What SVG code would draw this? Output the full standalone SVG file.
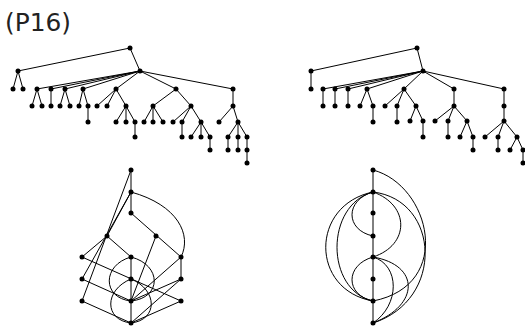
<svg xmlns="http://www.w3.org/2000/svg" width="525" height="327" viewBox="0 0 525 327">
<style>
.e{stroke:#000;stroke-width:1;fill:none}
.n{fill:#000}
.t{font-family:"DejaVu Sans","Liberation Sans",sans-serif;font-size:24px;fill:#222}
</style>
<rect width="525" height="327" fill="#fff"/>
<text class="t" x="5" y="31" textLength="66" lengthAdjust="spacingAndGlyphs">(P16)</text>
<g id="connectors" class="e">
<path d="M130,48L18,71M130,48L140,71M18,71L13,89M18,71L23,89
M140,71L37,89M140,71L51,89M140,71L65,89M140,71L83,89M140,71L116,89M140,71L176,89M140,71L233,89
M37,89L32,106M37,89L42,106M51,89L51,106M65,89L60,106M65,89L70,106M83,89L79,106M83,89L88,106M88,106L88,122
M116,89L97,106M116,89L107,106M116,89L126,106M126,106L116,122M126,106L126,122M126,106L135,122M135,122L135,137
M176,89L153,106M176,89L191,106M153,106L144,122M153,106L153,122M153,106L163,122
M191,106L173,122M191,106L182,122M191,106L201,122M182,122L182,137
M201,122L191,137M201,122L201,137M201,122L210,137M210,137L210,150
M233,89L233,106M233,106L219,122M233,106L238,122M238,122L228,137M238,122L238,137M238,122L247,137
M228,137L228,150M238,137L238,150M247,137L247,150M247,150L247,163"/>
<path d="M417,48L311,71M417,48L423,71M311,71L311,89
M423,71L323,89M423,71L335,89M423,71L348,89M423,71L367,89M423,71L404,89M423,71L454,89M423,71L504,89
M323,89L323,106M335,89L335,106M348,89L348,106M367,89L360,106M367,89L373,106M373,106L373,122
M404,89L385,106M404,89L397,106M404,89L416,106M397,106L397,122M416,106L410,121M416,106L423,121M423,121L423,137
M454,89L454,106M454,106L435,121M454,106L448,121M454,106L467,121M448,121L448,137M467,121L460,137M467,121L473,137M473,137L473,150
M504,89L504,106M504,106L504,121M504,121L485,137M504,121L498,137M504,121L517,137M498,137L498,150M517,137L510,150M517,137L523,150M523,150L523,163"/>
<path d="M131,170L131,192M131,192L131,213M131,213L181,257M156,236L131,301
M131,192L107,236M107,236L82,257M107,236L131,257M131,170L82,301M131,192L82,279
M82,257L181,301M82,279L131,301M82,301L131,323M131,257L131,279M131,279L131,301M131,301L131,323
M181,257L181,279M181,257L131,301M181,279L131,301M181,279L131,323M181,301L131,323"/>
<path d="M131,192C178,205 192,235 181,257"/>
<path d="M131,257C102,265 102,298 131,301M131,257C162,265 162,298 131,301"/>
<path d="M131,279C104,290 104,320 131,323M131,279C158,290 158,320 131,323"/>
<path d="M373,170L373,323"/>
<path d="M373,170C430,185 455,285 373,301"/>
<path d="M373,192C345,200 345,230 373,236"/>
<path d="M373,192C410,205 410,245 373,257"/>
<path d="M373,192C310,205 310,290 373,301M373,192C325,205 325,290 373,301"/>
<path d="M373,257C345,265 345,295 373,301"/>
<path d="M373,257C400,265 400,305 373,323M373,257C420,265 420,305 373,323"/>
<path d="M373,192C440,200 445,300 373,323"/>
</g>
<g id="nodes" class="n">
<circle cx="130" cy="48" r="2.5"/><circle cx="18" cy="71" r="2.5"/><circle cx="140" cy="71" r="2.5"/>
<circle cx="13" cy="89" r="2.5"/><circle cx="23" cy="89" r="2.5"/><circle cx="37" cy="89" r="2.5"/><circle cx="51" cy="89" r="2.5"/><circle cx="65" cy="89" r="2.5"/><circle cx="83" cy="89" r="2.5"/><circle cx="116" cy="89" r="2.5"/><circle cx="176" cy="89" r="2.5"/><circle cx="233" cy="89" r="2.5"/>
<circle cx="32" cy="106" r="2.5"/><circle cx="42" cy="106" r="2.5"/><circle cx="51" cy="106" r="2.5"/><circle cx="60" cy="106" r="2.5"/><circle cx="70" cy="106" r="2.5"/><circle cx="79" cy="106" r="2.5"/><circle cx="88" cy="106" r="2.5"/><circle cx="97" cy="106" r="2.5"/><circle cx="107" cy="106" r="2.5"/><circle cx="126" cy="106" r="2.5"/><circle cx="153" cy="106" r="2.5"/><circle cx="191" cy="106" r="2.5"/><circle cx="233" cy="106" r="2.5"/>
<circle cx="88" cy="122" r="2.5"/><circle cx="116" cy="122" r="2.5"/><circle cx="126" cy="122" r="2.5"/><circle cx="135" cy="122" r="2.5"/><circle cx="144" cy="122" r="2.5"/><circle cx="153" cy="122" r="2.5"/><circle cx="163" cy="122" r="2.5"/><circle cx="173" cy="122" r="2.5"/><circle cx="182" cy="122" r="2.5"/><circle cx="201" cy="122" r="2.5"/><circle cx="219" cy="122" r="2.5"/><circle cx="238" cy="122" r="2.5"/>
<circle cx="135" cy="137" r="2.5"/><circle cx="182" cy="137" r="2.5"/><circle cx="191" cy="137" r="2.5"/><circle cx="201" cy="137" r="2.5"/><circle cx="210" cy="137" r="2.5"/><circle cx="228" cy="137" r="2.5"/><circle cx="238" cy="137" r="2.5"/><circle cx="247" cy="137" r="2.5"/>
<circle cx="210" cy="150" r="2.5"/><circle cx="228" cy="150" r="2.5"/><circle cx="238" cy="150" r="2.5"/><circle cx="247" cy="150" r="2.5"/><circle cx="247" cy="163" r="2.5"/>
<circle cx="417" cy="48" r="2.5"/><circle cx="311" cy="71" r="2.5"/><circle cx="423" cy="71" r="2.5"/>
<circle cx="311" cy="89" r="2.5"/><circle cx="323" cy="89" r="2.5"/><circle cx="335" cy="89" r="2.5"/><circle cx="348" cy="89" r="2.5"/><circle cx="367" cy="89" r="2.5"/><circle cx="404" cy="89" r="2.5"/><circle cx="454" cy="89" r="2.5"/><circle cx="504" cy="89" r="2.5"/>
<circle cx="323" cy="106" r="2.5"/><circle cx="335" cy="106" r="2.5"/><circle cx="348" cy="106" r="2.5"/><circle cx="360" cy="106" r="2.5"/><circle cx="373" cy="106" r="2.5"/><circle cx="385" cy="106" r="2.5"/><circle cx="397" cy="106" r="2.5"/><circle cx="416" cy="106" r="2.5"/><circle cx="454" cy="106" r="2.5"/><circle cx="504" cy="106" r="2.5"/>
<circle cx="373" cy="122" r="2.5"/><circle cx="397" cy="122" r="2.5"/><circle cx="410" cy="121" r="2.5"/><circle cx="423" cy="121" r="2.5"/><circle cx="435" cy="121" r="2.5"/><circle cx="448" cy="121" r="2.5"/><circle cx="467" cy="121" r="2.5"/><circle cx="504" cy="121" r="2.5"/>
<circle cx="423" cy="137" r="2.5"/><circle cx="448" cy="137" r="2.5"/><circle cx="460" cy="137" r="2.5"/><circle cx="473" cy="137" r="2.5"/><circle cx="485" cy="137" r="2.5"/><circle cx="498" cy="137" r="2.5"/><circle cx="517" cy="137" r="2.5"/>
<circle cx="473" cy="150" r="2.5"/><circle cx="498" cy="150" r="2.5"/><circle cx="510" cy="150" r="2.5"/><circle cx="523" cy="150" r="2.5"/><circle cx="523" cy="163" r="2.5"/>
<circle cx="131" cy="170" r="2.5"/><circle cx="131" cy="192" r="2.5"/><circle cx="131" cy="213" r="2.5"/><circle cx="107" cy="236" r="2.5"/><circle cx="156" cy="236" r="2.5"/>
<circle cx="82" cy="257" r="2.5"/><circle cx="131" cy="257" r="2.5"/><circle cx="181" cy="257" r="2.5"/><circle cx="82" cy="279" r="2.5"/><circle cx="131" cy="279" r="2.5"/><circle cx="181" cy="279" r="2.5"/>
<circle cx="82" cy="301" r="2.5"/><circle cx="131" cy="301" r="2.5"/><circle cx="181" cy="301" r="2.5"/><circle cx="131" cy="323" r="2.5"/>
<circle cx="373" cy="170" r="2.5"/><circle cx="373" cy="192" r="2.5"/><circle cx="373" cy="213" r="2.5"/><circle cx="373" cy="236" r="2.5"/><circle cx="373" cy="257" r="2.5"/><circle cx="373" cy="279" r="2.5"/><circle cx="373" cy="301" r="2.5"/><circle cx="373" cy="323" r="2.5"/>
</g>
</svg>
